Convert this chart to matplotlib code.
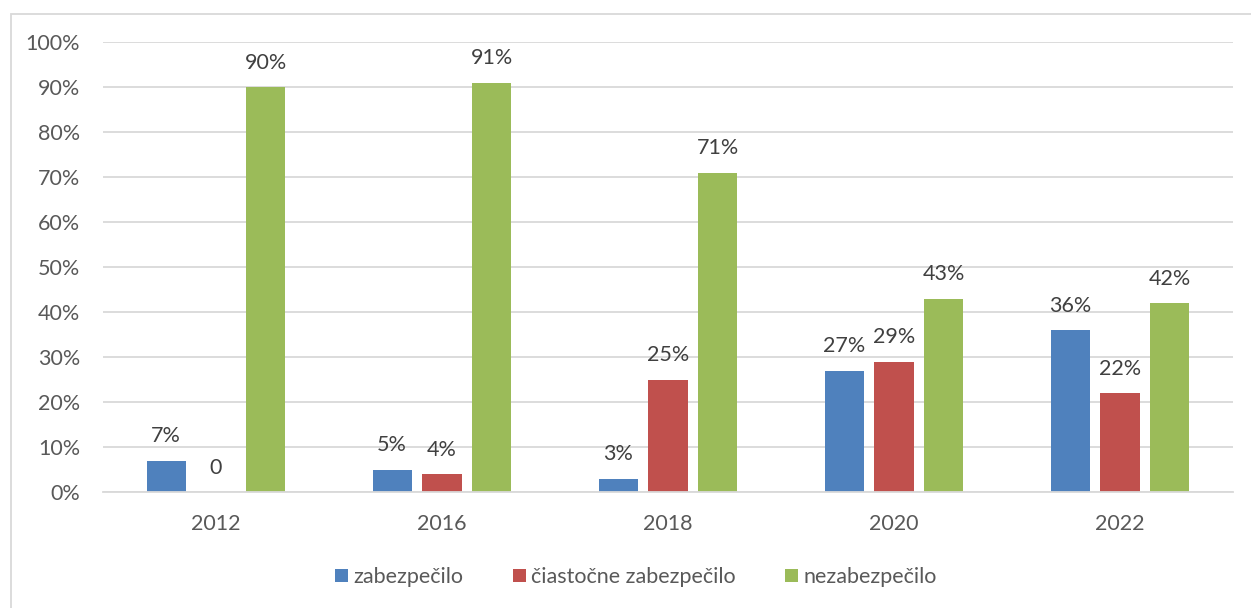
import matplotlib
matplotlib.use("Agg")
import matplotlib.pyplot as plt
from matplotlib.patches import Rectangle, Patch
import numpy as np

plt.rcParams['font.family'] = ['Lato', 'DejaVu Sans']

years = ["2012", "2016", "2018", "2020", "2022"]
series_names = ["zabezpečilo", "čiastočne zabezpečilo", "nezabezpečilo"]
zabezpecilo = [7, 5, 3, 27, 36]
ciastocne = [0, 4, 25, 29, 22]
nezabezpecilo = [90, 91, 71, 43, 42]
colors = ["#4F81BD", "#C0504D", "#9BBB59"]
y_ticks = [0, 10, 20, 30, 40, 50, 60, 70, 80, 90, 100]

W, H = 1251, 608
fig = plt.figure(figsize=(W / 100, H / 100), dpi=100)
ax = fig.add_axes([103 / W, 1 - 492 / H, (1233 - 103) / W, (492 - 42) / H])

# outer chart frame
fig.patches.append(Rectangle((10.5 / W, -0.1), 1.2, 1 - 14 / H + 0.1,
                             transform=fig.transFigure, fill=False,
                             edgecolor="#d9d9d9", linewidth=1.3))

x = np.arange(len(years))
width = 0.173
step = 0.221
text_color = "#404040"
fs = 15.5

for i, (vals, col) in enumerate(zip([zabezpecilo, ciastocne, nezabezpecilo], colors)):
    pos = x + (i - 1) * step
    ax.bar(pos, vals, width=width, color=col, zorder=3)
    for p, v in zip(pos, vals):
        label = "0" if v == 0 else f"{v}%"
        ax.annotate(label, (p, v), xytext=(0, 13), textcoords="offset points",
                    ha="center", va="baseline", fontsize=fs, color=text_color)

ax.set_xlim(-0.5, len(years) - 0.5)
ax.set_ylim(0, 100)
ax.set_yticks(y_ticks)
ax.set_yticklabels([f"{t}%" for t in y_ticks])
ax.set_xticks(x)
ax.set_xticklabels(years)
ax.tick_params(axis="y", length=0, pad=16.5, labelsize=fs, labelcolor="#595959")
ax.tick_params(axis="x", length=0, pad=16, labelsize=fs, labelcolor="#595959")
ax.grid(axis="y", color="#d9d9d9", linewidth=1.3, zorder=0)
for side in ["left", "right", "top"]:
    ax.spines[side].set_visible(False)
ax.spines["bottom"].set_color("#d9d9d9")
ax.spines["bottom"].set_linewidth(1.3)
ax.spines["bottom"].set_zorder(4)

handles = [Patch(facecolor=c, edgecolor="none") for c in colors]
fig.legend(handles, series_names, loc="center", bbox_to_anchor=(636 / W, 1 - 577 / H),
           ncol=3, frameon=False, fontsize=fs, labelcolor="#595959",
           handlelength=0.6, handleheight=0.6, handletextpad=0.25,
           columnspacing=2.3)

fig.savefig("out.png", dpi=100)
